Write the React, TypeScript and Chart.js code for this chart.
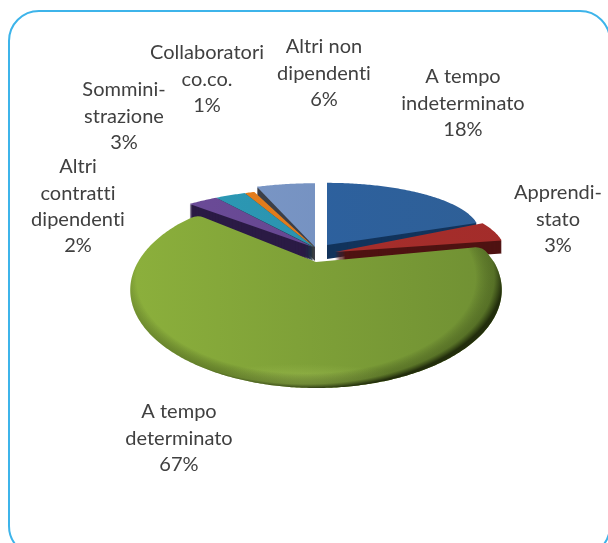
import React, { useEffect, useRef } from "react";
import { Chart, registerables } from "chart.js";

Chart.register(...registerables);

const categories = [
  "A tempo indeterminato",
  "Apprendistato",
  "A tempo determinato",
  "Altri contratti dipendenti",
  "Somministrazione",
  "Collaboratori co.co.",
  "Altri non dipendenti",
];
const shares = [18, 3, 67, 2, 3, 1, 6];
const labelLines = [
  ["A tempo", "indeterminato"],
  ["Apprendi-", "stato"],
  ["A tempo", "determinato"],
  ["Altri", "contratti", "dipendenti"],
  ["Sommini-", "strazione"],
  ["Collaboratori", "co.co."],
  ["Altri non", "dipendenti"],
];

// Presentation only: where each label sits and how each slice is projected.
const labelAt = [
  [463, 77], [558, 193], [179, 412], [78, 167], [124, 90], [207, 53], [324, 47],
];
const looks: any[] = [
  { ax: 327, ay: 245, A: 147, B: 46, k: -0.26, depth: 14, top: ["#2b62a6", "#2f5f95"], dark: "#12345c" },
  { ax: 335, ay: 252, A: 170, B: 58, k: 0, depth: 13, top: ["#a8302c", "#a32c2a"], dark: "#4f1312", start: -0.08, end: 0.05 },
  { ax: 316, ay: 262, A: 178, B: 90, k: 0.2857, depth: 0, top: ["#8cb03c", "#6f8f33"], dark: "#3f5218", start: 0.07, end: -0.15, round: 16 },
  { ax: 313, ay: 247, A: 203, B: 75, k: 0.2857, depth: 14, top: ["#6d4c9a", "#5f4389"], dark: "#2b1b45", end: 0, start: 0, nudge: -0.06 },
  { ax: 314, ay: 247, A: 205, B: 75, k: 0.2857, depth: 14, top: ["#2c9cb8", "#2a8aa6"], dark: "#123f4c" },
  { ax: 314, ay: 247, A: 205, B: 75, k: 0.2857, depth: 14, top: ["#e8801f", "#d97416"], dark: "#6a380c" },
  { ax: 315, ay: 247, A: 200, B: 82, k: 0.2857, depth: 14, top: ["#7f9bc9", "#6d8abb"], dark: "#3c3f48" },
];
looks[3].start = -0.06;
const paintOrder = [6, 5, 4, 3, 0, 1, 2];

function tracePoint(look: any, theta: number) {
  const x = Math.sin(theta);
  const y = -Math.cos(theta);
  const w = 1 - look.k * y;
  return [look.ax + (look.A * x) / w, look.ay + (look.B * y) / w];
}

function traceSlice(ctx: CanvasRenderingContext2D, el: any, look: any, shift: number) {
  const a0 = el.startAngle + Math.PI / 2 + (look.start || 0);
  const a1 = el.endAngle + Math.PI / 2 + (look.end || 0);
  const n = Math.max(6, Math.ceil((a1 - a0) / 0.01));
  const pts: number[][] = [];
  for (let i = 0; i <= n; i++) pts.push(tracePoint(look, a0 + ((a1 - a0) * i) / n));
  const r = look.round || 0;
  const skip = r ? Math.min(Math.floor(n / 3), Math.ceil((r * 1.2) / Math.max(1, Math.hypot(pts[1][0] - pts[0][0], pts[1][1] - pts[0][1])))) : 0;
  ctx.beginPath();
  ctx.moveTo(look.ax, look.ay + shift);
  if (r) ctx.arcTo(pts[0][0], pts[0][1] + shift, pts[skip][0], pts[skip][1] + shift, r);
  for (let i = skip; i <= n - skip; i++) ctx.lineTo(pts[i][0], pts[i][1] + shift);
  if (r) ctx.arcTo(pts[n][0], pts[n][1] + shift, look.ax, look.ay + shift, r);
  ctx.closePath();
}

const frame3d = {
  id: "frame3d",
  beforeDraw(chart: any) {
    const ctx = chart.ctx;
    ctx.save();
    ctx.strokeStyle = "#3db4ea";
    ctx.lineWidth = 2;
    ctx.beginPath();
    ctx.roundRect(9, 11, 601, 545, 30);
    ctx.stroke();
    ctx.restore();
  },
  beforeDatasetDraw(chart: any, args: any) {
    const ctx: CanvasRenderingContext2D = chart.ctx;
    const arcs = args.meta.data;
    for (const i of paintOrder) {
      const el = arcs[i];
      const look = looks[i];
      ctx.save();
      ctx.fillStyle = look.dark;
      for (let d = look.depth; d >= 1; d -= 1) {
        traceSlice(ctx, el, look, d);
        ctx.fill();
      }
      const g = ctx.createLinearGradient(look.ax - 190, 0, look.ax + 190, 0);
      g.addColorStop(0, look.top[0]);
      g.addColorStop(1, look.top[1]);
      ctx.fillStyle = g;
      traceSlice(ctx, el, look, 0);
      ctx.fill();
      if (i === 2) {
        ctx.clip();
        ctx.save();
        ctx.translate(300, 386);
        ctx.scale(120, 22);
        const glow = ctx.createRadialGradient(0, 0, 0, 0, 0, 1);
        glow.addColorStop(0, "rgba(175,205,95,0.55)");
        glow.addColorStop(1, "rgba(175,205,95,0)");
        ctx.fillStyle = glow;
        ctx.fillRect(-1, -1, 2, 2);
        ctx.restore();
        ctx.translate(306, 278);
        ctx.scale(197, 111);
        const rim = ctx.createRadialGradient(0, 0, 0, 0, 0, 1);
        rim.addColorStop(0, "rgba(0,0,0,0)");
        rim.addColorStop(0.86, "rgba(0,0,0,0)");
        rim.addColorStop(0.955, "rgba(40,55,15,0.35)");
        rim.addColorStop(1, "rgba(30,40,10,0.95)");
        ctx.fillStyle = rim;
        ctx.fillRect(-2, -2, 4, 4);
      }
      ctx.restore();
    }
    return false;
  },
  afterDraw(chart: any) {
    const ctx: CanvasRenderingContext2D = chart.ctx;
    ctx.save();
    ctx.font = '20px Lato, "Open Sans", sans-serif';
    (ctx as any).letterSpacing = "0.01px";
    ctx.fillStyle = "#404040";
    ctx.textAlign = "center";
    ctx.textBaseline = "middle";
    labelLines.forEach((lines, i) => {
      const [x, y] = labelAt[i];
      [...lines, `${shares[i]}%`].forEach((t, j) => ctx.fillText(t, x, y + j * 26.3));
    });
    ctx.restore();
  },
};

export default function App() {
  const ref = useRef<HTMLCanvasElement>(null);
  useEffect(() => {
    const chart = new Chart(ref.current!, {
      type: "pie",
      data: { labels: categories, datasets: [{ data: shares }] },
      options: {
        animation: false,
        responsive: false,
        plugins: { legend: { display: false }, tooltip: { enabled: false } },
      },
      plugins: [frame3d],
    });
    return () => chart.destroy();
  }, []);
  return (
    <canvas
      ref={ref}
      width={608}
      height={543}
      style={{ position: "fixed", left: 0, top: 0, width: 608, height: 543, background: "#fff" }}
    />
  );
}
